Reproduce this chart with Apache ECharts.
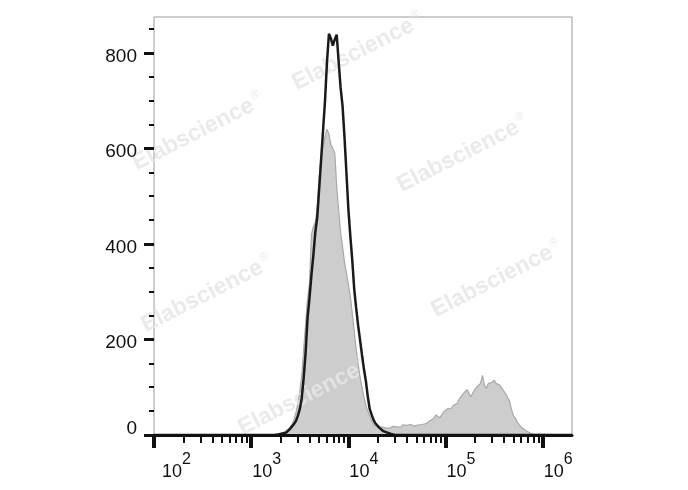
<!DOCTYPE html>
<html><head><meta charset="utf-8">
<script src="https://cdn.jsdelivr.net/npm/echarts@6/dist/echarts.min.js"></script>
<style>html,body{margin:0;padding:0;background:#fff}#c{width:688px;height:490px}</style>
</head><body><div id="c"></div>
<script>
// bin positions as decade exponents (log10 of fluorescence intensity)
const binExponents = [
  2.00,
  3.20,3.22,3.24,3.26,3.28,3.30,3.32,3.34,3.36,3.38,
  3.40,3.42,3.44,3.46,3.48,3.50,3.52,3.54,3.56,3.58,
  3.60,3.62,3.64,3.66,3.68,3.70,3.72,3.74,3.76,3.78,
  3.80,3.82,3.84,3.86,3.88,3.90,3.92,3.94,3.96,3.98,
  4.00,4.02,4.04,4.06,4.08,4.10,4.12,4.14,4.16,4.18,
  4.20,4.22,4.24,4.26,4.28,4.30,4.32,4.34,4.36,4.38,
  4.40,4.42,4.44,4.46,4.48,4.50,4.52,4.54,4.56,4.58,
  4.60,4.62,4.64,4.66,4.68,4.70,4.72,4.74,4.76,4.78,
  4.80,4.82,4.84,4.86,4.88,4.90,4.92,4.94,4.96,4.98,
  5.00,5.02,5.04,5.06,5.08,5.10,5.12,5.14,5.16,5.18,
  5.20,5.22,5.24,5.26,5.28,5.30,5.32,5.34,5.36,5.38,
  5.40,5.42,5.44,5.46,5.48,5.50,5.52,5.54,5.56,5.58,
  5.60,5.62,5.64,5.66,5.68,5.70,5.72,5.74,5.76,5.78,
  5.80,5.82,5.84,5.86,5.88,5.90,5.92,
  6.30
];
// isotype control (grey filled)
const controlCounts = [
  0,
  0,0,1,2,3,4,3,7,9,13,
  16,22,32,46,65,90,124,180,232,285,
  318,420,436,445,480,540,580,603,625,640,
  630,608,600,590,520,470,425,395,362,340,
  315,290,255,218,180,150,122,100,80,62,
  50,40,30,22,18,16,15,17,14,15,
  16,14,15,18,16,17,19,16,21,18,
  20,17,22,20,19,23,21,24,22,26,
  24,28,30,27,35,42,38,36,40,48,
  52,55,58,56,62,58,66,75,78,86,
  90,95,98,80,76,95,100,98,108,125,
  104,98,108,112,110,115,108,112,104,100,
  92,88,78,70,52,40,35,26,22,16,
  12,10,8,5,4,2,0,
  0
];
// stained sample (black line)
const sampleCounts = [
  0,
  0,0,0,0,1,2,3,4,5,8,
  13,18,23,29,40,54,77,119,172,245,
  287,335,377,425,456,517,578,639,701,781,
  840,830,815,828,838,781,727,689,624,549,
  473,417,366,306,266,230,199,168,138,113,
  80,54,42,31,24,21,15,12,8,6,
  5,4,2,1,0,0,0,0,0,0,
  0,0,0,0,0,0,0,0,0,0,
  0,0,0,0,0,0,0,0,0,0,
  0,0,0,0,0,0,0,0,0,0,
  0,0,0,0,0,0,0,0,0,0,
  0,0,0,0,0,0,0,0,0,0,
  0,0,0,0,0,0,0,0,0,0,
  0,0,0,0,0,0,0,
  0
];
const xTickExponents = [2,3,4,5,6];
const xTickBase = '10';
const xTickSuperscripts = ['2','3','4','5','6'];
const minorMultipliers = [2,3,4,5,6,7,8,9];
const yTickValues = [0,200,400,600,800];
const yMinorValues = [50,100,150,250,300,350,450,500,550,650,700,750,850];
const watermarkText = 'Elabscience';

const X_MIN = 2, X_MAX = 6.301, Y_MAX = 875;
const xMinor = [];
xTickExponents.forEach(d => minorMultipliers.forEach(m => {
  const v = d + Math.log10(m);
  if (v <= X_MAX + 1e-6) xMinor.push(v);
}));

const controlData = binExponents.map((x, i) => [x, controlCounts[i]]);
const sampleData = binExponents.map((x, i) => [x, sampleCounts[i]]);

const FONT = 'Liberation Sans';
const wmPos = [[358,52],[198,132],[463,154],[497,279],[207,294],[304,397]];
const wmFill = 'rgba(230,230,230,0.86)';
const graphics = wmPos.map(p => ({
  type: 'text', x: p[0], y: p[1], rotation: 27 * Math.PI / 180, z: 3, silent: true,
  style: {
    text: '{a|' + watermarkText + '}{r|®}', align: 'center', verticalAlign: 'middle',
    rich: {
      a: { font: 'bold 23px "Liberation Sans"', fill: wmFill },
      r: { font: '12px "Liberation Sans"', fill: wmFill, padding: [0,0,14,2] }
    }
  }
}));

const chart = echarts.init(document.getElementById('c'), null, { renderer: 'canvas' });
chart.setOption({
  animation: false,
  backgroundColor: '#fff',
  grid: { left: 154, right: 116, top: 17, bottom: 55, show: true, borderColor: '#9a9a9a', borderWidth: 1, backgroundColor: 'transparent' },
  graphic: graphics,
  xAxis: [{
    type: 'value', min: X_MIN, max: X_MAX, position: 'bottom', z: 10,
    splitLine: { show: false },
    axisLine: { show: true, onZero: false, lineStyle: { color: '#111', width: 3 } },
    axisTick: { show: true, customValues: xTickExponents, length: 13, lineStyle: { color: '#111', width: 4 } },
    axisLabel: {
      show: true, customValues: xTickExponents, align: 'left', margin: 17,
      formatter: v => {
        const i = xTickExponents.indexOf(v);
        const sup = xTickSuperscripts[i];
        return (i === 0 ? '{f|' : '{b|') + xTickBase + '}{s|' + sup + '}';
      },
      rich: {
        b: { fontFamily: FONT, fontSize: 18, color: '#111', padding: [0,0,0,1] },
        f: { fontFamily: FONT, fontSize: 18, color: '#111', padding: [0,0,0,8] },
        s: { fontFamily: FONT, fontSize: 16, color: '#111', padding: [0,0,25,0] }
      }
    }
  }, {
    type: 'value', min: X_MIN, max: X_MAX, position: 'bottom', z: 10,
    splitLine: { show: false },
    axisLine: { show: false, onZero: false },
    axisTick: { show: true, customValues: xMinor, length: 8, lineStyle: { color: '#111', width: 2 } },
    axisLabel: { show: false }
  }],
  yAxis: [{
    type: 'value', min: 0, max: Y_MAX, position: 'left', z: 10,
    splitLine: { show: false },
    axisLine: { show: false },
    axisTick: { show: true, customValues: yTickValues, length: 10, lineStyle: { color: '#111', width: 3 } },
    axisLabel: {
      show: true, customValues: yTickValues, margin: 17,
      formatter: v => v === 0 ? '{z|0}' : '{n|' + v + '}',
      rich: {
        z: { fontFamily: FONT, fontSize: 19, color: '#111', padding: [0,0,12,0] },
        n: { fontFamily: FONT, fontSize: 19, color: '#111', padding: [7,0,0,0] }
      }
    }
  }, {
    type: 'value', min: 0, max: Y_MAX, position: 'left', z: 10,
    splitLine: { show: false },
    axisLine: { show: false },
    axisTick: { show: true, customValues: yMinorValues, length: 5, lineStyle: { color: '#111', width: 2 } },
    axisLabel: { show: false }
  }],
  series: [{
    name: 'Control', type: 'line', xAxisIndex: 0, yAxisIndex: 0, data: controlData,
    showSymbol: false, symbol: 'none', z: 2,
    lineStyle: { color: '#a9a9a9', width: 1.2 },
    areaStyle: { color: '#cdcdcd', opacity: 1 }
  }, {
    name: 'Sample', type: 'line', xAxisIndex: 0, yAxisIndex: 0, data: sampleData,
    showSymbol: false, symbol: 'none', z: 5,
    lineStyle: { color: '#1a1a1a', width: 2.5 }
  }]
});
</script>
</body></html>
